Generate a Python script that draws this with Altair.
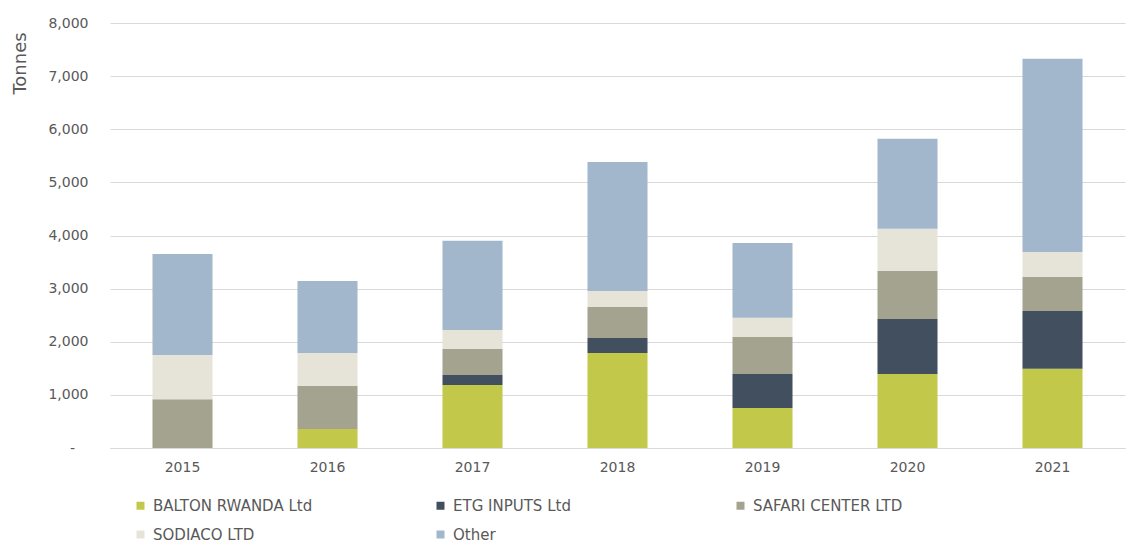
import altair as alt
import pandas as pd

years = ["2015", "2016", "2017", "2018", "2019", "2020", "2021"]
series = ["BALTON RWANDA Ltd", "ETG INPUTS Ltd", "SAFARI CENTER LTD", "SODIACO LTD", "Other"]
colors = ["#c2c84a", "#414f5f", "#a4a390", "#e6e4d8", "#a2b7cb"]
y_ticks = [0, 1000, 2000, 3000, 4000, 5000, 6000, 7000, 8000]

balton = [0, 360, 1185, 1790, 755, 1395, 1490]
etg = [0, 0, 190, 280, 640, 1035, 1090]
safari = [920, 810, 490, 585, 695, 905, 640]
sodiaco = [830, 620, 355, 300, 360, 790, 470]
other = [1900, 1355, 1680, 2430, 1410, 1695, 3635]

values = [balton, etg, safari, sodiaco, other]
rows = []
for si, (name, vals) in enumerate(zip(series, values)):
    for y, v in zip(years, vals):
        rows.append({"Year": y, "Company": name, "Tonnes": v, "ord": si})
df = pd.DataFrame(rows)

FONT = "DejaVu Sans"
TXT = "#595959"

chart = alt.Chart(df).mark_bar().encode(
    x=alt.X("Year:N", sort=years,
            scale=alt.Scale(paddingInner=0.586, paddingOuter=0.293),
            axis=alt.Axis(title=None, labelAngle=0, ticks=False, labelPadding=12,
                          domainColor="#d9d9d9", labelFont=FONT, labelFontSize=14,
                          labelColor=TXT)),
    y=alt.Y("Tonnes:Q", stack="zero",
            scale=alt.Scale(domain=[0, 8000], nice=False),
            axis=alt.Axis(title="Tonnes", values=y_ticks,
                          ticks=False, domain=False, labelPadding=22,
                          labelExpr="datum.value === 0 ? '-\u00a0\u00a0\u00a0\u200b' : format(datum.value, ',')",
                          grid=True, gridColor="#d9d9d9", titlePadding=18, titleFont=FONT,
                          titleY=40, titleAlign="center", titleFontSize=18,
                          titleFontWeight="normal", titleColor=TXT, labelFont=FONT,
                          labelFontSize=14, labelColor=TXT, labelOverlap=False)),
    color=alt.Color("Company:N", scale=alt.Scale(domain=series, range=colors),
                    legend=alt.Legend(title=None, orient="none", legendX=23, legendY=475,
                                      direction="horizontal", columns=3, gridAlign="all",
                                      columnPadding=120, rowPadding=13, symbolType="square",
                                      symbolSize=64, symbolStrokeWidth=0, labelFont=FONT,
                                      labelFontSize=15, labelColor=TXT, labelOffset=5,
                                      labelLimit=400, padding=0)),
    order=alt.Order("ord:Q", sort="ascending"),
).properties(
    width=1015, height=425,
    autosize=alt.AutoSizeParams(type="none"),
    padding={"left": 102, "top": 15, "right": 2, "bottom": 95},
).configure_view(stroke=None).configure_axisX(grid=False)

chart.save("out.html", embed_options={"renderer": "svg", "actions": False})
